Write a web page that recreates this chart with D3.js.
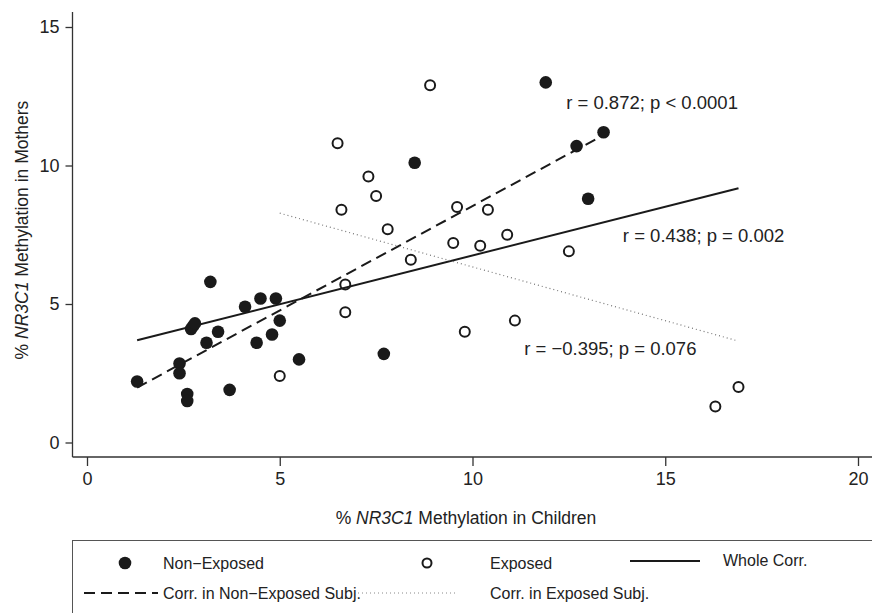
<!DOCTYPE html>
<html lang="en">
<head>
<meta charset="UTF-8">
<title>NR3C1 methylation</title>
<script src="https://cdn.jsdelivr.net/npm/d3@7"></script>
<style>
  body { margin: 0; background: #fff; }
  text { font-family: "Liberation Sans", Arial, sans-serif; fill: #222; }
</style>
</head>
<body>
<script>

    // % methylation, children (x) vs mothers (y)
    var nonExpX = [1.3, 2.4, 2.4, 2.6, 2.6, 2.7, 2.75, 2.8, 3.1, 3.2, 3.4, 3.7, 4.1, 4.4, 4.5, 4.8, 4.9, 5.0, 5.5, 7.7, 8.5, 11.9, 12.7, 13.0, 13.4];
    var nonExpY = [2.2, 2.85, 2.5, 1.75, 1.5, 4.1, 4.2, 4.3, 3.6, 5.8, 4.0, 1.9, 4.9, 3.6, 5.2, 3.9, 5.2, 4.4, 3.0, 3.2, 10.1, 13.0, 10.7, 8.8, 11.2];
    var expX = [5.0, 6.5, 6.6, 6.7, 6.7, 7.3, 7.5, 7.8, 8.4, 8.9, 9.5, 9.6, 9.8, 10.2, 10.4, 10.9, 11.1, 12.5, 16.3, 16.9];
    var expY = [2.4, 10.8, 8.4, 5.7, 4.7, 9.6, 8.9, 7.7, 6.6, 12.9, 7.2, 8.5, 4.0, 7.1, 8.4, 7.5, 4.4, 6.9, 1.3, 2.0];

    // fitted lines (end points)
    var wholeFitX = [1.3, 16.9], wholeFitY = [3.69, 9.18];
    var nonExpFitX = [1.3, 13.4], nonExpFitY = [1.98, 11.1];
    var expFitX = [5.0, 16.85], expFitY = [8.28, 3.68];

    var xTicks = [0, 5, 10, 15, 20];
    var yTicks = [0, 5, 10, 15];

    var notes = [
        {x: 12.43, y: 12.29, t: "r = 0.872; p < 0.0001"},
        {x: 13.9, y: 7.49, t: "r = 0.438; p = 0.002"},
        {x: 11.34, y: 3.38, t: "r = \u22120.395; p = 0.076"}
    ];

    var W = 872, H = 613;
    var svg = d3.select("body").append("svg")
            .attr("width", W).attr("height", H);

    var x = d3.scaleLinear().domain([0, 20]).range([87, 858]);
    var y = d3.scaleLinear().domain([0, 15]).range([442.5, 27]);

    var axisLeftX = 72.5, axisBottomY = 457;

    // axis lines
    svg.append("line").attr("x1", axisLeftX).attr("x2", axisLeftX)
            .attr("y1", 12).attr("y2", axisBottomY)
            .attr("stroke", "#333").attr("stroke-width", 1.3);
    svg.append("line").attr("x1", axisLeftX).attr("x2", 872)
            .attr("y1", axisBottomY).attr("y2", axisBottomY)
            .attr("stroke", "#333").attr("stroke-width", 1.3);

    var gx = svg.append("g").attr("transform", "translate(0," + axisBottomY + ")")
            .call(d3.axisBottom(x).tickValues(xTicks).tickSize(9).tickPadding(6).tickSizeOuter(0));
    var gy = svg.append("g").attr("transform", "translate(" + axisLeftX + ",0)")
            .call(d3.axisLeft(y).tickValues(yTicks).tickSize(7).tickPadding(6).tickSizeOuter(0));
    [gx, gy].forEach(function(g) {
        g.select(".domain").remove();
        g.selectAll(".tick line").attr("stroke", "#333").attr("stroke-width", 1.3);
        g.selectAll(".tick text").style("font-size", "18px")
                .style("font-family", "'Liberation Sans', Arial, sans-serif").attr("fill", "#222");
    });

    // axis titles
    var xt = svg.append("text").attr("x", 466).attr("y", 524)
            .attr("text-anchor", "middle").style("font-size", "17.5px");
    xt.append("tspan").text("% ");
    xt.append("tspan").style("font-style", "italic").text("NR3C1");
    xt.append("tspan").text(" Methylation in Children");

    var yt = svg.append("text").attr("transform", "translate(28,230) rotate(-90)")
            .attr("text-anchor", "middle").style("font-size", "17.5px");
    yt.append("tspan").text("% ");
    yt.append("tspan").style("font-style", "italic").text("NR3C1");
    yt.append("tspan").text(" Methylation in Mothers");

    var line = d3.line().x(function(d) { return x(d[0]); }).y(function(d) { return y(d[1]); });

    svg.append("path").datum(d3.zip(wholeFitX, wholeFitY)).attr("d", line)
            .attr("fill", "none").attr("stroke", "#1a1a1a").attr("stroke-width", 2);
    svg.append("path").datum(d3.zip(nonExpFitX, nonExpFitY)).attr("d", line)
            .attr("fill", "none").attr("stroke", "#1a1a1a").attr("stroke-width", 2)
            .attr("stroke-dasharray", "11,6");
    svg.append("path").datum(d3.zip(expFitX, expFitY)).attr("d", line)
            .attr("fill", "none").attr("stroke", "#777").attr("stroke-width", 1.2)
            .attr("stroke-dasharray", "1,3");

    svg.append("g").selectAll("circle").data(d3.zip(nonExpX, nonExpY)).enter()
            .append("circle")
            .attr("cx", function(d) { return x(d[0]); })
            .attr("cy", function(d) { return y(d[1]); })
            .attr("r", 6.3).attr("fill", "#1a1a1a");

    svg.append("g").selectAll("circle").data(d3.zip(expX, expY)).enter()
            .append("circle")
            .attr("cx", function(d) { return x(d[0]); })
            .attr("cy", function(d) { return y(d[1]); })
            .attr("r", 5).attr("fill", "none").attr("stroke", "#1a1a1a").attr("stroke-width", 2);

    svg.append("g").selectAll("text").data(notes).enter()
            .append("text")
            .attr("x", function(d) { return x(d.x); })
            .attr("y", function(d) { return y(d.y); })
            .attr("dy", "0.35em")
            .style("font-size", "18.5px")
            .text(function(d) { return d.t; });

    // legend (box runs off the right and bottom edges)
    var lg = svg.append("g");
    lg.append("rect").attr("x", 72.5).attr("y", 540.5).attr("width", 810).attr("height", 80)
            .attr("fill", "none").attr("stroke", "#555").attr("stroke-width", 1);

    var row1 = 563, row2 = 593;
    lg.append("circle").attr("cx", 125).attr("cy", row1).attr("r", 6.3).attr("fill", "#1a1a1a");
    lg.append("circle").attr("cx", 427).attr("cy", row1).attr("r", 4.5)
            .attr("fill", "none").attr("stroke", "#1a1a1a").attr("stroke-width", 2);
    lg.append("line").attr("x1", 630).attr("x2", 700).attr("y1", row1 - 2).attr("y2", row1 - 2)
            .attr("stroke", "#1a1a1a").attr("stroke-width", 2);
    lg.append("line").attr("x1", 84).attr("x2", 158).attr("y1", row2).attr("y2", row2)
            .attr("stroke", "#1a1a1a").attr("stroke-width", 2).attr("stroke-dasharray", "11,6");
    lg.append("line").attr("x1", 358).attr("x2", 456).attr("y1", row2).attr("y2", row2)
            .attr("stroke", "#888").attr("stroke-width", 1).attr("stroke-dasharray", "1,3");

    var legendText = [
        {x: 163, y: row1, t: "Non\u2212Exposed"},
        {x: 490, y: row1, t: "Exposed"},
        {x: 723, y: row1 - 3, t: "Whole Corr."},
        {x: 163, y: row2, t: "Corr. in Non\u2212Exposed Subj."},
        {x: 490, y: row2, t: "Corr. in Exposed Subj."}
    ];
    lg.selectAll("text.lt").data(legendText).enter()
            .append("text").attr("class", "lt")
            .attr("x", function(d) { return d.x; })
            .attr("y", function(d) { return d.y; })
            .attr("dy", "0.35em")
            .style("font-size", "16px")
            .text(function(d) { return d.t; });

</script>
</body>
</html>
